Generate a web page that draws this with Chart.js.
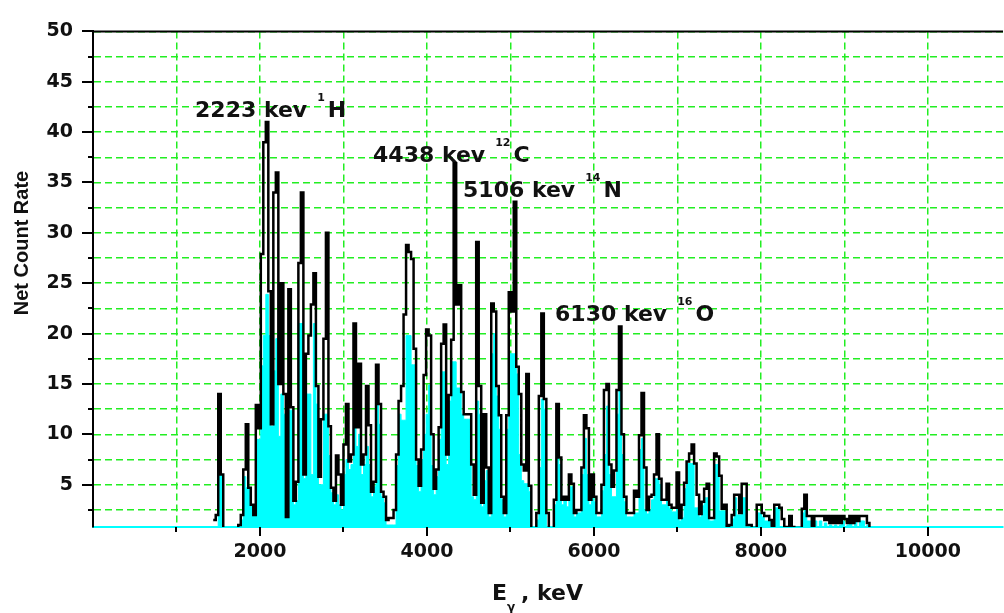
<!DOCTYPE html>
<html>
<head>
<meta charset="utf-8">
<script src="https://cdn.jsdelivr.net/npm/chart.js@4.4.0/dist/chart.umd.min.js"></script>
<style>
  html, body { margin: 0; padding: 0; background: #fff; }
</style>
</head>
<body>
<canvas id="chart" width="1004" height="613"></canvas>
<script>
// gamma spectrum, 30 keV channels starting at 1440 keV
const startKeV = 1440;
const binKeV = 30;

// black line (count rate per channel)
const lineCounts = [
  1.5, 2, 14, 6, 0, 0, 0, 0, 0, 0,                          // 1440
  1, 2, 6.5, 11, 4.7, 3, 2, 12.9, 10.6, 27.9,               // 1740
  39, 41, 24.2, 11, 34, 36, 15, 25, 14, 1.8,                // 2040
  24.4, 12.7, 3.4, 5.3, 27, 34, 6, 18, 19.8, 22.9,          // 2340
  26, 14.8, 5.8, 11.5, 19.5, 30, 10.8, 4.7, 3.4, 7.9,       // 2640
  6, 3, 9, 13, 7.3, 8, 21, 10.7, 17, 7,                     // 2940
  8, 14.8, 10.9, 4.3, 5.3, 16.9, 13, 4.3, 3.8, 1.5,         // 3240
  1.7, 1.7, 2.5, 8, 13.3, 14.8, 21.9, 28.8, 28.1, 27.4,     // 3540
  18.5, 7.5, 4.9, 8.5, 15.9, 20.4, 19.8, 10, 4.6, 6.5,      // 3840
  10.7, 19, 20.9, 8, 13.9, 19.4, 36.9, 22.9, 24.8, 14.2,    // 4140
  12, 12, 12, 7, 4, 29.1, 14.8, 3.2, 12, 6.7,               // 4440
  2.2, 23, 22.2, 14.8, 11.9, 3.8, 2.2, 11.9, 24.1, 22.2,    // 4740
  33.1, 16.7, 14, 7, 6.4, 16, 4.9, 0, 0, 2.2,               // 5040
  13.8, 22, 13.5, 2.2, 0, 0, 3.5, 13, 7.7, 3.5,             // 5340
  3.8, 3.5, 6, 5.1, 2.2, 2.5, 2.5, 6.7, 11.9, 10.6,         // 5640
  3.5, 6, 3.8, 2.2, 2.2, 5, 14.4, 15, 7, 4.8,               // 5940
  6.4, 14.4, 20.7, 10, 3.8, 2.2, 2.2, 2.2, 4.4, 3.8,        // 6240
  9.9, 14.1, 6.7, 2.5, 3.8, 4, 6, 10, 5.6, 3.5,             // 6540
  3.5, 5.1, 3, 2.7, 2.7, 6.2, 1.7, 3, 5.2, 7.3,             // 6840
  8.1, 9, 7.1, 4, 2.1, 3.3, 4.6, 5.1, 1.7, 1.7,             // 7140
  8.1, 7.8, 5.9, 2.6, 3, 0.9, 1, 2, 4, 4,                   // 7440
  2.2, 5.1, 5.1, 1, 1, 0.7, 0.7, 3, 3, 2.2,                 // 7740
  1.9, 1.9, 1.5, 0.8, 3, 3, 2.7, 1.6, 0.8, 0.8,             // 8040
  1.9, 0.8, 0.7, 0.7, 0.7, 2.6, 4, 1.9, 1.9, 0.7,           // 8340
  1.9, 1.9, 1.9, 1.9, 1.5, 1.9, 1.2, 1.9, 1.2, 1.9,         // 8640
  1.2, 1.9, 1.6, 1.2, 1.9, 1.2, 1.9, 1.4, 1.9, 1.9,         // 8940
  1.9, 1.2, 0                                               // 9240
];

// cyan filled part under the line
const fillCounts = [
  0, 0, 6, 6, 0, 0, 0, 0, 0, 0,                             // 1440
  1, 1.5, 5.8, 4.7, 4.7, 3, 2, 9.5, 9.5, 16.8,              // 1740
  19.8, 23.9, 19.8, 10.8, 16.3, 19.5, 9.8, 14, 12, 1.8,     // 2040
  12.4, 12.4, 3, 3.4, 21, 21, 5.6, 14, 14, 6,               // 2340
  21, 13, 5, 5, 12, 12, 7.9, 4.2, 3, 4,                     // 2640
  3, 2.5, 6, 7.5, 6.5, 7, 14.9, 8.8, 10, 6,                 // 2940
  7, 8.8, 7, 3.8, 4.8, 13.3, 11, 3.8, 3.2, 1,               // 3240
  1, 1, 1, 6.9, 12, 11.4, 11.4, 19.8, 19.8, 16.9,           // 3540
  16.9, 6.9, 4.3, 7.5, 10, 12, 14.9, 6.9, 4, 5.8,           // 3840
  9.5, 16.2, 16.2, 7, 13.3, 17.2, 17.2, 14.6, 14.6, 12,     // 4140
  11.5, 11.5, 11.5, 3.8, 3.5, 13.3, 12, 2.8, 5.4, 6.4,      // 4440
  1.8, 18, 20, 13.8, 10.5, 3.5, 1.8, 10.5, 18, 18,          // 4740
  18, 16, 8, 5.4, 5.1, 5.1, 4.3, 0, 0, 1.5,                 // 5040
  6.7, 13.5, 12.5, 0, 0, 0, 3, 12.2, 7, 3,                  // 5340
  3.5, 2.8, 4.8, 4.8, 1.8, 2.2, 2.2, 6, 9.6, 6,             // 5640
  3, 5.4, 3.3, 1.8, 1.8, 4.4, 8, 12.8, 6, 3.8,              // 5940
  3.8, 12, 14.4, 8, 3.3, 1.8, 1.8, 1.8, 2.2, 2.2,           // 6240
  8.5, 9.6, 2.5, 2.1, 2.5, 3.5, 5.6, 5.6, 5, 3,             // 6540
  3, 3.7, 2.6, 2.3, 2.3, 4, 1.4, 1.7, 4.6, 7.1,             // 6840
  7.1, 7.1, 2.7, 2.7, 1.8, 2.9, 3.7, 3.7, 1.4, 1.4,         // 7140
  7, 7, 2.4, 2.4, 2.4, 0.8, 0.8, 1.6, 3.7, 2,               // 7440
  2, 3.7, 3.7, 0.8, 0.8, 0.7, 0.7, 2.2, 2.2, 1.8,           // 7740
  1.4, 1.4, 1.4, 0.8, 2.7, 2.7, 0.8, 0.8, 0.8, 0.8,         // 8040
  0.8, 0.8, 0.7, 0.7, 0.7, 2.2, 2.7, 1.4, 1.4, 0.7,         // 8340
  1.4, 0.8, 1.4, 0.8, 1.2, 0.8, 1, 0.8, 1, 0.8,             // 8640
  1, 1.4, 0.8, 1, 1.4, 0.8, 1.4, 0.8, 1.4, 1.4,             // 8940
  0.8, 1, 0                                                 // 9240
];

const xTicks = [1000, 2000, 3000, 4000, 5000, 6000, 7000, 8000, 9000, 10000];
const yTicks = [2.5, 5, 7.5, 10, 12.5, 15, 17.5, 20, 22.5, 25, 27.5, 30, 32.5, 35, 37.5, 40, 42.5, 45, 47.5, 50];

const peakNames = ["2223 kev", "4438 kev", "5106 kev", "6130 kev"];
const peakMass = ["1", "12", "14", "16"];
const peakElem = ["H", "C", "N", "O"];
// where each label starts (keV, count rate of its baseline)
const peakLabelAt = [[1222, 41.5], [3354, 37.0], [4432, 33.6], [5534, 21.25]];

const toPoints = arr => arr.map((c, i) => ({ x: startKeV + i * binKeV, y: c }));

const BOLD = "'DejaVu Sans', sans-serif";

const decor = {
  id: "decor",
  afterDatasetsDraw(chart) {
    const { ctx, chartArea: a, scales: { x, y } } = chart;
    ctx.save();
    ctx.strokeStyle = "#000";
    ctx.lineWidth = 2;
    ctx.beginPath();
    ctx.moveTo(a.left, a.bottom); ctx.lineTo(a.left, a.top); ctx.lineTo(a.right, a.top);
    ctx.stroke();

    // tick marks
    yTicks.forEach(v => {
      const py = Math.round(y.getPixelForValue(v));
      const len = v % 5 === 0 ? 11 : 5;
      ctx.beginPath(); ctx.moveTo(a.left - len, py); ctx.lineTo(a.left, py); ctx.stroke();
    });
    xTicks.forEach(v => {
      const px = Math.round(x.getPixelForValue(v));
      const len = v % 2000 === 0 ? 9 : 5;
      ctx.beginPath(); ctx.moveTo(px, a.bottom); ctx.lineTo(px, a.bottom + len); ctx.stroke();
    });

    // peak labels
    ctx.fillStyle = "#111";
    ctx.textBaseline = "alphabetic";
    ctx.textAlign = "left";
    peakNames.forEach((name, i) => {
      const px = x.getPixelForValue(peakLabelAt[i][0]);
      const py = y.getPixelForValue(peakLabelAt[i][1]);
      ctx.font = "bold 22px " + BOLD;
      ctx.fillText(name, px, py);
      let cx = px + ctx.measureText(name).width + 10;
      ctx.font = "bold 11px " + BOLD;
      ctx.fillText(peakMass[i], cx, py - 16);
      cx += ctx.measureText(peakMass[i]).width + 3;
      ctx.font = "bold 22px " + BOLD;
      ctx.fillText(peakElem[i], cx, py);
    });

    // axis titles
    ctx.font = "bold 22px " + BOLD;
    ctx.fillText("E", 492, 600);
    ctx.font = "bold 12px " + BOLD;
    ctx.fillText("\u03b3", 507, 611);
    ctx.font = "bold 22px " + BOLD;
    ctx.fillText(", keV", 521, 600);

    ctx.translate(22, 243);
    ctx.rotate(-Math.PI / 2);
    ctx.textAlign = "center";
    ctx.textBaseline = "middle";
    ctx.font = "bold 20px 'Liberation Sans', Arial, sans-serif";
    ctx.fillText("Net Count Rate", 0, 0);
    ctx.restore();
  }
};

const GREEN = "#22ee22";

new Chart(document.getElementById("chart"), {
  type: "line",
  data: {
    datasets: [
      { data: toPoints(lineCounts), stepped: true, borderColor: "#000", borderWidth: 2.5,
        pointRadius: 0, fill: false, order: 1 },
      { data: toPoints(fillCounts), stepped: true, borderColor: "#00ffff", borderWidth: 1,
        backgroundColor: "#00ffff", pointRadius: 0, fill: "start", order: 2 }
    ]
  },
  options: {
    responsive: false,
    animation: false,
    layout: { padding: { top: 17, right: 1, left: 0, bottom: 0 } },
    plugins: { legend: { display: false }, tooltip: { enabled: false } },
    scales: {
      x: {
        type: "linear", min: 0, max: 10900,
        afterBuildTicks: s => { s.ticks = xTicks.map(v => ({ value: v })); },
        afterFit: s => { s.height = 86; },
        grid: { color: GREEN, lineWidth: 1.5, drawTicks: false },
        border: { color: "#00ffff", width: 2, dash: [7, 4] },
        ticks: {
          autoSkip: false, maxRotation: 0, padding: 14, color: "#111",
          font: { family: BOLD, weight: "bold", size: 19 },
          callback: v => (v % 2000 === 0 ? String(v) : "")
        }
      },
      y: {
        min: 0.8, max: 50,
        afterBuildTicks: s => { s.ticks = yTicks.map(v => ({ value: v })); },
        afterFit: s => { s.width = 93; },
        grid: { color: GREEN, lineWidth: 1.5, drawTicks: false },
        border: { color: "#000", width: 2, dash: [7, 4] },
        ticks: {
          autoSkip: false, padding: 20, color: "#111",
          font: { family: BOLD, weight: "bold", size: 19 },
          callback: v => (v % 5 === 0 ? String(v) : "")
        }
      }
    }
  },
  plugins: [decor]
});
</script>
</body>
</html>
